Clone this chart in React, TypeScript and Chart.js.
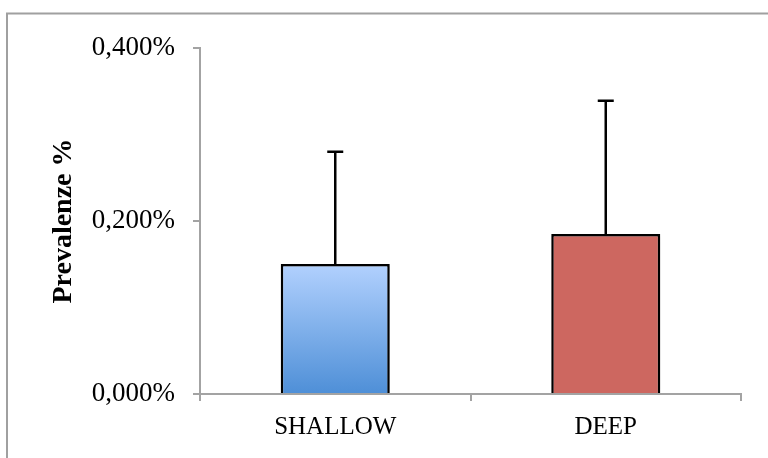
import React, { useEffect, useRef } from "react";
import { Chart, registerables } from "chart.js";

Chart.register(...registerables);

const categories = ["SHALLOW", "DEEP"];
const prevalence = [0.1503, 0.185];
const errorPlus = [0.1298, 0.154];
const yTicks = [0, 0.2, 0.4];
const barColors = ["#6aa1e2", "#cd6760"];

const AXIS_GRAY = "#a3a3a3";

const framePlugin = {
  id: "frame",
  beforeDraw(chart: any) {
    const ctx = chart.ctx;
    ctx.save();
    ctx.strokeStyle = "#a0a0a0";
    ctx.lineWidth = 2;
    ctx.beginPath();
    ctx.moveTo(7, 458);
    ctx.lineTo(7, 13.5);
    ctx.lineTo(768, 13.5);
    ctx.stroke();
    ctx.restore();
  },
};

const shadowPlugin = {
  id: "barShadow",
  beforeDatasetDraw(chart: any) {
    const ctx = chart.ctx;
    ctx.save();
    ctx.shadowColor = "rgba(0,0,0,0.22)";
    ctx.shadowBlur = 4;
    ctx.shadowOffsetX = 2;
    ctx.shadowOffsetY = 1;
  },
  afterDatasetDraw(chart: any) {
    chart.ctx.restore();
  },
};

const errorBarPlugin = {
  id: "errorBars",
  afterDatasetsDraw(chart: any) {
    const ctx = chart.ctx;
    const meta = chart.getDatasetMeta(0);
    const yScale = chart.scales.y;
    ctx.save();
    ctx.strokeStyle = "#000";
    ctx.lineWidth = 2.5;
    meta.data.forEach((bar: any, i: number) => {
      const x = bar.x;
      const yBase = yScale.getPixelForValue(prevalence[i]);
      const yTop = yScale.getPixelForValue(prevalence[i] + errorPlus[i]);
      ctx.beginPath();
      ctx.moveTo(x, yBase);
      ctx.lineTo(x, yTop);
      ctx.moveTo(x - 8, yTop);
      ctx.lineTo(x + 8, yTop);
      ctx.stroke();
    });
    ctx.restore();
  },
};

export default function App() {
  const canvasRef = useRef<HTMLCanvasElement | null>(null);

  useEffect(() => {
    document.body.style.margin = "0";
    const canvas = canvasRef.current;
    if (!canvas) return;
    const chart = new Chart(canvas, {
      type: "bar",
      data: {
        labels: categories,
        datasets: [
          {
            data: prevalence,
            backgroundColor: (c: any) => {
              const i = c.dataIndex;
              if (i === 0) {
                const area = c.chart.chartArea;
                if (!area) return barColors[0];
                const ys = c.chart.scales.y;
                const top = ys.getPixelForValue(prevalence[0]);
                const bottom = ys.getPixelForValue(0);
                const g = c.chart.ctx.createLinearGradient(0, top, 0, bottom);
                g.addColorStop(0, "#b2d1fe");
                g.addColorStop(1, "#4e8fd7");
                return g;
              }
              return barColors[i];
            },
            borderColor: "#000",
            borderWidth: 2.5,
            barPercentage: 0.403,
            categoryPercentage: 1,
          },
        ],
      },
      options: {
        responsive: false,
        animation: false,
        layout: { padding: { left: 0, right: 27, top: 48, bottom: 0 } },
        plugins: {
          legend: { display: false },
          tooltip: { enabled: false },
        },
        scales: {
          x: {
            grid: {
              display: true,
              drawOnChartArea: false,
              drawTicks: true,
              tickLength: 7,
              offset: true,
              color: AXIS_GRAY,
              lineWidth: 2,
            },
            border: { display: true, color: AXIS_GRAY, width: 2 },
            ticks: {
              color: "#000",
              padding: 11,
              font: { family: "'Liberation Serif', serif", size: 25 },
            },
            afterFit: (scale: any) => {
              scale.height = 458 - 394 - 0;
            },
          },
          y: {
            min: 0,
            max: 0.4,
            afterBuildTicks: (scale: any) => {
              scale.ticks = yTicks.map((v) => ({ value: v }));
            },
            grid: {
              display: true,
              drawOnChartArea: false,
              drawTicks: true,
              tickLength: 7,
              color: AXIS_GRAY,
              lineWidth: 2,
            },
            border: { display: true, color: AXIS_GRAY, width: 2 },
            ticks: {
              color: "#000",
              padding: 18,
              font: { family: "'Liberation Serif', serif", size: 27 },
              callback: (v: any) => Number(v).toFixed(3).replace(".", ",") + "%",
            },
            title: {
              display: true,
              text: "Prevalenze %",
              color: "#000",
              font: { family: "'Liberation Serif', serif", size: 28, weight: "bold" },
              padding: { top: 47, bottom: 0 },
            },
            afterFit: (scale: any) => {
              scale.width = 200;
            },
          },
        },
      },
      plugins: [framePlugin, shadowPlugin, errorBarPlugin],
    });
    return () => chart.destroy();
  }, []);

  return (
    <div style={{ position: "relative", width: 768, height: 458, background: "#fff" }}>
      <canvas ref={canvasRef} width={768} height={458} />
    </div>
  );
}
